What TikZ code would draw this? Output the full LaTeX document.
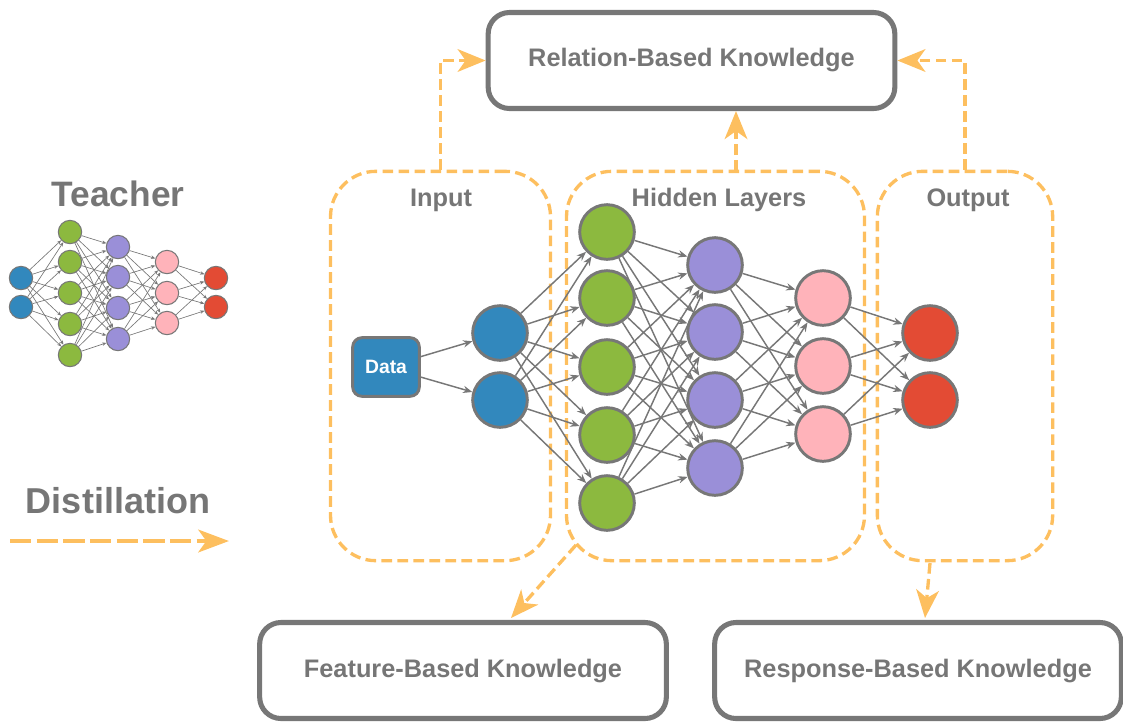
\documentclass[tikz,border=0pt]{standalone}
\usepackage{fontspec}
\setmainfont{Liberation Sans}
\usetikzlibrary{arrows.meta}

\definecolor{lgray}{HTML}{777777}
\definecolor{tgray}{HTML}{767676}
\definecolor{nblue}{HTML}{3288BD}
\definecolor{ngreen}{HTML}{8CB93F}
\definecolor{npurple}{HTML}{9A8FD8}
\definecolor{npink}{HTML}{FFB3BA}
\definecolor{nred}{HTML}{E34B34}
\definecolor{dorange}{HTML}{FDBF5F}

\begin{document}
\begin{tikzpicture}[x=0.75pt,y=-0.75pt,
  font=\bfseries,
  kbox/.style={draw=lgray, line width=3.8pt, rounded corners=16pt,
    minimum width=305pt, minimum height=72pt, text=tgray,
    font=\fontsize{19}{22}\selectfont\bfseries},
  region/.style={draw=dorange, line width=2.5pt, dash pattern=on 8pt off 4pt,
    rounded corners=34pt, minimum height=292pt},
  rlabel/.style={text=tgray, font=\fontsize{19}{22}\selectfont\bfseries},
  neuron/.style={circle, draw=lgray, line width=2.2pt, minimum size=41pt, inner sep=0pt},
  sneuron/.style={circle, draw=lgray, line width=0.8pt, minimum size=17.5pt, inner sep=0pt},
  edge/.style={draw=lgray, line width=1.1pt, -{Stealth[length=7pt,width=5.5pt]}},
  sedge/.style={draw=lgray, line width=0.5pt, -{Stealth[length=3.2pt,width=2.6pt]}},
  distill/.style={draw=dorange, line width=2.5pt, dash pattern=on 8pt off 4pt,
    -{Stealth[length=21pt,width=17pt,inset=6pt]}},
]
\useasboundingbox (0,0) rectangle (1123,722);

% knowledge boxes
\node[kbox] (rel) at (691.5,60.5) {Relation-Based Knowledge};
\node[kbox] (feat) at (463,670.5) {Feature-Based Knowledge};
\node[kbox] (resp) at (918,670.5) {Response-Based Knowledge};

% dashed layer groups
\node[region, minimum width=165pt] (inreg) at (440.5,366) {};
\node[region, minimum width=223.5pt] (hidreg) at (715.5,366) {};
\node[region, minimum width=131.5pt] (outreg) at (965,366) {};
\node[rlabel] (inlab) at (441,200) {Input};
\node[rlabel] (hidlab) at (719,200) {Hidden Layers};
\node[rlabel] (outlab) at (968,200) {Output};

% distillation paths
\coordinate (hup) at (736,171);
\coordinate (fstart) at (576,545);
\coordinate (fend) at (511,618);
\coordinate (rstart) at (930,563);
\coordinate (rend) at (925,618);
\draw[distill] (inreg.north) |- (rel.west);
\draw[distill] (hup) -- (hup |- rel.south);
\draw[distill] (outreg.north) |- (rel.east);
\draw[distill] (fstart) -- (fend);
\draw[distill] (rstart) -- (rend);

% student network
\node[draw=lgray, line width=2.2pt, fill=nblue, rounded corners=7pt,
  minimum width=50pt, minimum height=44pt, text=white,
  font=\fontsize{14.5}{16}\selectfont\bfseries] (data) at (386,367) {Data};

\foreach \i/\y in {1/333,2/400} \node[neuron, fill=nblue] (a\i) at (500,\y) {};
\foreach \i/\y in {1/232,2/298,3/367,4/435,5/503} \node[neuron, fill=ngreen] (b\i) at (607,\y) {};
\foreach \i/\y in {1/265,2/332,3/400,4/468} \node[neuron, fill=npurple] (c\i) at (715,\y) {};
\foreach \i/\y in {1/298,2/366,3/434} \node[neuron, fill=npink] (d\i) at (823,\y) {};
\foreach \i/\y in {1/333,2/400} \node[neuron, fill=nred] (e\i) at (930,\y) {};

\foreach \i in {1,2} \draw[edge] (data) -- (a\i);
\foreach \i in {1,2} \foreach \j in {1,...,5} \draw[edge] (a\i) -- (b\j);
\foreach \i in {1,...,5} \foreach \j in {1,...,4} \draw[edge] (b\i) -- (c\j);
\foreach \i in {1,...,4} \foreach \j in {1,2,3} \draw[edge] (c\i) -- (d\j);
\foreach \i in {1,2,3} \foreach \j in {1,2} \draw[edge] (d\i) -- (e\j);

% teacher network
\node[text=tgray, font=\fontsize{26.5}{30}\selectfont\bfseries] (teach) at (118,194) {Teacher};
\foreach \i/\y in {1/278,2/307} \node[sneuron, fill=nblue] (ta\i) at (21,\y) {};
\foreach \i/\y in {1/232,2/262,3/293,4/324,5/355} \node[sneuron, fill=ngreen] (tb\i) at (70,\y) {};
\foreach \i/\y in {1/247,2/277,3/308,4/339} \node[sneuron, fill=npurple] (tc\i) at (118,\y) {};
\foreach \i/\y in {1/262,2/293,3/323} \node[sneuron, fill=npink] (td\i) at (167,\y) {};
\foreach \i/\y in {1/278,2/307} \node[sneuron, fill=nred] (te\i) at (216,\y) {};
\foreach \i in {1,2} \foreach \j in {1,...,5} \draw[sedge] (ta\i) -- (tb\j);
\foreach \i in {1,...,5} \foreach \j in {1,...,4} \draw[sedge] (tb\i) -- (tc\j);
\foreach \i in {1,...,4} \foreach \j in {1,2,3} \draw[sedge] (tc\i) -- (td\j);
\foreach \i in {1,2,3} \foreach \j in {1,2} \draw[sedge] (td\i) -- (te\j);

% legend
\node[text=tgray, font=\fontsize{27}{30}\selectfont\bfseries] (dlab) at (118,501) {Distillation};
\coordinate (lstart) at (10,541);
\coordinate (lend) at (229,541);
\draw[draw=dorange, line width=3pt, dash pattern=on 16pt off 4pt,
  -{Stealth[length=23pt,width=17pt,inset=6pt]}] (lstart) -- (lend);
\end{tikzpicture}
\end{document}
